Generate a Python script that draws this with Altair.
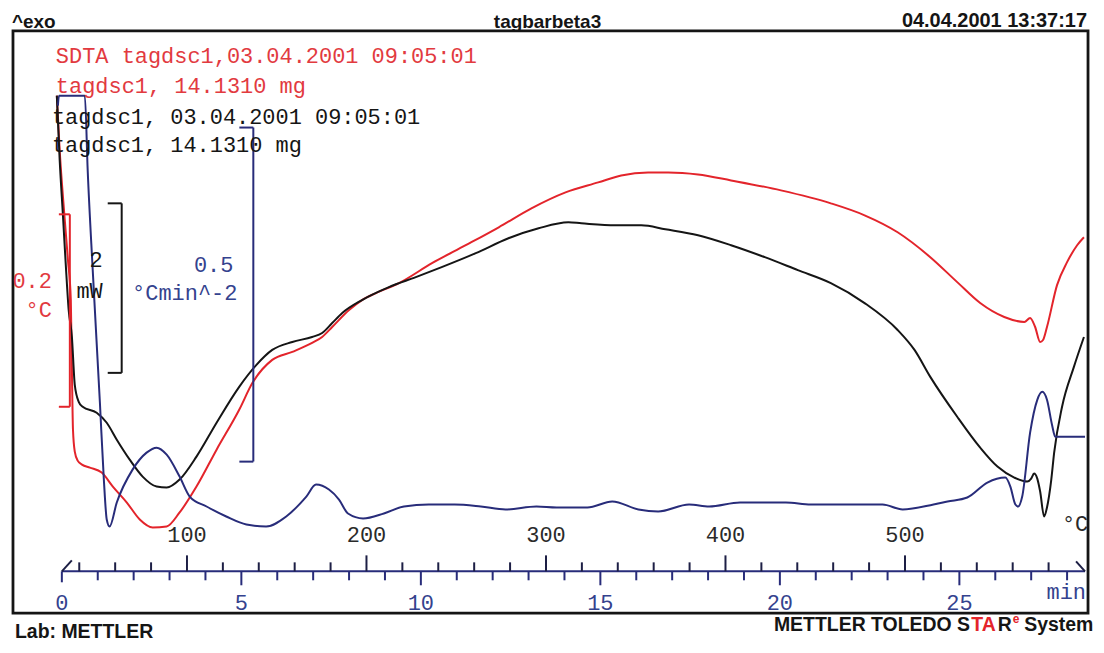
import altair as alt
import pandas as pd

# ------------------------------------------------------------------ data
# time in minutes; signal heights in plot units
red_t = [-0.14, -0.06, 0.06, 0.17, 0.25, 0.28, 0.31, 0.36, 0.44, 0.56, 0.78, 1.11, 1.42, 1.81, 2.17,
         2.53, 2.92, 3.28, 3.75, 4.31, 4.94, 5.31, 5.86, 6.42, 6.97, 7.25, 7.53, 8.0, 8.36, 8.75,
         9.39, 10.31, 11.25, 12.17, 13.08, 14.03, 14.94, 15.58, 16.33, 16.89, 17.72, 18.64, 20.03,
         21.42, 22.36, 23.28, 24.19, 24.94, 25.58, 26.25, 26.81, 26.97, 27.11, 27.25, 27.33, 27.44,
         27.72, 28.0, 28.28, 28.47]
red_v = [521, 466, 406, 356, 316, 246, 186, 164, 155, 151, 148, 143, 129, 113, 96,
         88, 89, 103, 129, 166, 206, 233, 256, 264, 273, 279, 289, 306, 316, 323,
         333, 353, 371, 389, 408, 424, 434, 441, 444, 444, 442, 436, 426,
         413, 401, 384, 359, 334, 313, 299, 294, 298, 289, 274, 276, 289,
         331, 354, 371, 379]

black_t = [-0.14, -0.06, 0.03, 0.11, 0.19, 0.28, 0.36, 0.47, 0.58, 0.97, 1.25, 1.53, 1.89, 2.25, 2.64,
           2.92, 3.28, 3.75, 4.31, 4.94, 5.42, 5.86, 6.42, 6.97, 7.25, 7.53, 7.81, 8.36, 9.11, 9.86,
           10.58, 11.53, 12.44, 13.28, 14.11, 14.47, 15.42, 16.14, 16.81, 17.72, 18.64, 19.58, 20.5,
           21.42, 22.36, 23.28, 23.75, 24.19, 24.94, 25.58, 26.06, 26.53, 26.89, 27.0, 27.08, 27.17,
           27.25, 27.36, 27.44, 27.56, 27.64, 27.86, 28.19, 28.47]
black_v = [521, 456, 401, 351, 306, 279, 231, 214, 209, 203, 193, 176, 156, 139, 129,
           128, 136, 159, 193, 229, 251, 266, 274, 279, 283, 293, 303, 316, 329, 339,
           349, 363, 378, 388, 394, 393, 391, 391, 387, 381, 371, 359, 346,
           333, 313, 286, 266, 239, 199, 168, 149, 138, 134, 137, 142, 137,
           124, 99, 108, 136, 163, 209, 249, 279]

blue_t = [-0.11, -0.08, 0.64, 0.72, 0.86, 1.06, 1.17, 1.25, 1.33, 1.53, 1.97, 2.36, 2.64, 2.92, 3.28,
          3.56, 4.03, 4.58, 5.14, 5.69, 6.25, 6.81, 7.08, 7.44, 7.72, 7.97, 8.39, 8.97, 9.53, 10.22,
          10.94, 11.67, 12.36, 13.22, 13.78, 14.64, 15.33, 16.06, 16.61, 17.47, 18.03, 18.89, 20.17,
          20.86, 21.89, 22.86, 23.42, 24.28, 24.67, 25.22, 25.78, 26.28, 26.42, 26.56, 26.64, 26.75,
          26.97, 27.17, 27.31, 27.44, 27.58, 27.67, 28.5]
blue_v = [511, 521, 521, 446, 346, 213, 136, 96, 89, 113, 146, 163, 168, 161, 139,
          119, 109, 99, 91, 89, 99, 119, 131, 126, 116, 102, 97, 102, 109, 111,
          111, 109, 106, 109, 108, 108, 114, 106, 104, 111, 109, 113, 113,
          111, 111, 111, 106, 111, 114, 118, 133, 138, 129, 111, 109, 119,
          183, 216, 224, 216, 191, 179, 179]

minute_ticks = list(range(1, 29))
minute_labels = [0, 5, 10, 15, 20, 25]
axis_span = [0.0, 28.5]
temp_ticks = list(range(40, 600, 20))
temp_labels = [100, 200, 300, 400, 500]
T_START = 30.3   # deg C at t = 0
RATE = 20.0      # K/min

legend_red = ["SDTA tagdsc1,03.04.2001 09:05:01", "tagdsc1, 14.1310 mg"]
legend_black = ["tagdsc1, 03.04.2001 09:05:01", "tagdsc1, 14.1310 mg"]

# ------------------------------------------------------------------ style
RED = "#e3242b"
BLACK = "#151515"
NAVY = "#282c7a"
TXT_RED = "#e23a3f"
TXT_BLUE = "#34428e"
MONO = "Liberation Mono"
SANS = "Liberation Sans"
FS = 22

W, H = 1078, 584
xs = alt.Scale(domain=[-1.3611, 28.5833], nice=False, zero=False)
ys = alt.Scale(domain=[2, 586], nice=False, zero=False)

one = pd.DataFrame({"k": [0]})


def txt(s, x, y, color=BLACK, size=FS, font=MONO, weight="normal", align="left", baseline="middle"):
    return alt.Chart(one).mark_text(text=s, font=font, fontSize=size, fontWeight=weight, color=color,
                                    align=align, baseline=baseline).encode(x=alt.value(x), y=alt.value(y))


def seg(x1, y1, x2, y2, color, w=2.0):
    return alt.Chart(one).mark_rule(color=color, strokeWidth=w).encode(
        x=alt.value(x1), y=alt.value(y1), x2=alt.value(x2), y2=alt.value(y2))


def curve(t, v, color):
    df = pd.DataFrame({"t": t, "v": v})
    return alt.Chart(df).mark_line(color=color, strokeWidth=2, interpolate="monotone").encode(
        x=alt.X("t:Q", scale=xs, axis=None), y=alt.Y("v:Q", scale=ys, axis=None))


layers = []

# curves
layers.append(curve(red_t, red_v, RED))
layers.append(curve(black_t, black_v, BLACK))
layers.append(curve(blue_t, blue_v, NAVY))

# time / temperature axis inside the frame
AX_Y = 542
span_df = pd.DataFrame({"a": [axis_span[0]], "b": [axis_span[1]]})
layers.append(alt.Chart(span_df).mark_rule(color=NAVY, strokeWidth=2).encode(
    x=alt.X("a:Q", scale=xs, axis=None), x2="b:Q", y=alt.value(AX_Y)))
temp_df = pd.DataFrame({"T": temp_ticks})
layers.append(alt.Chart(temp_df).transform_calculate(t=f"(datum.T - {T_START}) / {RATE}")
              .transform_filter("datum.T % 100 != 0")
              .mark_rule(color="#1d1f45", strokeWidth=2)
              .encode(x=alt.X("t:Q", scale=xs, axis=None), y=alt.value(AX_Y), y2=alt.value(AX_Y - 9)))
layers.append(alt.Chart(temp_df).transform_calculate(t=f"(datum.T - {T_START}) / {RATE}")
              .transform_filter("datum.T % 100 == 0")
              .mark_rule(color="#1d1f45", strokeWidth=2)
              .encode(x=alt.X("t:Q", scale=xs, axis=None), y=alt.value(AX_Y), y2=alt.value(AX_Y - 16)))
min_df = pd.DataFrame({"t": minute_ticks})
layers.append(alt.Chart(min_df).transform_filter("datum.t % 5 != 0")
              .mark_rule(color=NAVY, strokeWidth=2)
              .encode(x=alt.X("t:Q", scale=xs, axis=None), y=alt.value(AX_Y), y2=alt.value(AX_Y + 9)))
layers.append(alt.Chart(min_df).transform_filter("datum.t % 5 == 0")
              .mark_rule(color=NAVY, strokeWidth=2)
              .encode(x=alt.X("t:Q", scale=xs, axis=None), y=alt.value(AX_Y), y2=alt.value(AX_Y + 14)))
layers.append(seg(49, AX_Y, 49, AX_Y + 11, NAVY))
layers.append(seg(49, AX_Y, 59, AX_Y - 11, "#1d1f45"))
layers.append(seg(1066, AX_Y - 10, 1075, AX_Y, "#1d1f45"))

# axis labels
tl_df = pd.DataFrame({"T": temp_labels})
layers.append(alt.Chart(tl_df).transform_calculate(t=f"(datum.T - {T_START}) / {RATE}")
              .mark_text(font=MONO, fontSize=FS, color="#2a2a2a", align="center", baseline="middle")
              .encode(x=alt.X("t:Q", scale=xs, axis=None), y=alt.value(506), text="T:N"))
ml_df = pd.DataFrame({"t": minute_labels})
layers.append(alt.Chart(ml_df)
              .mark_text(font=MONO, fontSize=FS, color=TXT_BLUE, align="center", baseline="middle")
              .encode(x=alt.X("t:Q", scale=xs, axis=None), y=alt.value(574), text="t:N"))
layers.append(txt("min", 1076, 563, TXT_BLUE, align="right"))
layers.append(txt("°C", 1065, 495, "#2a2a2a", align="center"))

# scale brackets
layers += [seg(57, 184, 57, 377, RED), seg(46, 184, 57, 184, RED), seg(46, 377, 57, 377, RED)]
layers += [seg(109, 173, 109, 343, BLACK), seg(95, 173, 109, 173, BLACK), seg(95, 343, 109, 343, BLACK)]
layers += [seg(241, 97, 241, 432, NAVY), seg(227, 97, 241, 97, NAVY), seg(227, 432, 241, 432, NAVY)]
layers.append(txt("0.2", 39, 251, TXT_RED, align="right"))
layers.append(txt("°C", 39, 280, TXT_RED, align="right"))
layers.append(txt("2", 90, 230, BLACK, align="right"))
layers.append(txt("mW", 90, 261, BLACK, align="right"))
layers.append(txt("0.5", 221, 235, TXT_BLUE, align="right"))
layers.append(txt("°Cmin^-2", 225, 263, TXT_BLUE, align="right"))

# curve legends
layers.append(txt(legend_red[0], 43, 25, TXT_RED))
layers.append(txt(legend_red[1], 43, 55, TXT_RED))
layers.append(txt(legend_black[0], 39, 86, BLACK))
layers.append(txt(legend_black[1], 39, 115, BLACK))

# header / footer
layers.append(txt("^exo", -1, -9, BLACK, size=19, font=SANS, weight="bold"))
layers.append(txt("tagbarbeta3", 536, -9, BLACK, size=19, font=SANS, weight="bold", align="center"))
layers.append(txt("04.04.2001 13:37:17", 1077, -10, BLACK, size=20, font=SANS, weight="bold", align="right"))
layers.append(txt("Lab: METTLER", 2, 609, BLACK, size=19.5, font=SANS, weight="bold", baseline="alphabetic"))
FB = 602
FX = 763
layers.append(txt("METTLER TOLEDO S", FX, FB, BLACK, size=19.5, font=SANS, weight="bold", baseline="alphabetic"))
layers.append(txt("TA", FX + 198, FB, RED, size=19.5, font=SANS, weight="bold", baseline="alphabetic"))
layers.append(txt("R", FX + 224.5, FB, BLACK, size=19.5, font=SANS, weight="bold", baseline="alphabetic"))
layers.append(txt("e", FX + 239.5, FB - 8, RED, size=12, font=SANS, weight="bold", baseline="alphabetic"))
layers.append(txt("System", FX + 251, FB, BLACK, size=19.5, font=SANS, weight="bold", baseline="alphabetic"))

chart = alt.layer(*layers).properties(
    width=W, height=H,
    padding={"left": 5, "top": 22, "right": 8, "bottom": 29},
    autosize=alt.AutoSizeParams(type="none"),
    background="white",
).configure_view(stroke=BLACK, strokeWidth=2.8)

chart.save("out.html", embed_options={"renderer": "svg", "actions": False})
